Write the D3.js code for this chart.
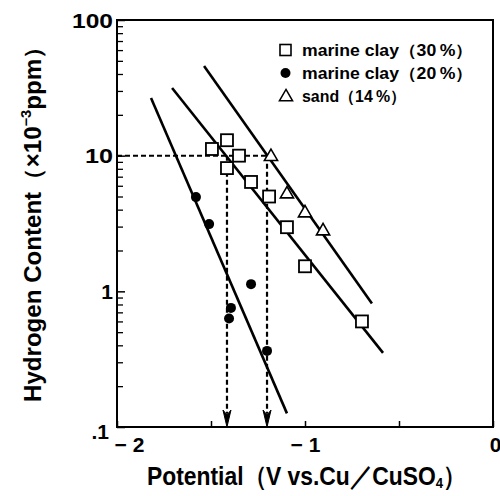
<!DOCTYPE html>
<html><head><meta charset="utf-8">
<script src="https://cdn.jsdelivr.net/npm/d3@7"></script>
<style>html,body{margin:0;padding:0;background:#fff;}svg{display:block;}</style>
</head><body>
<svg id="c" width="500" height="496"></svg>
<script>
// ---- data ----
const xTicks = [-2, -1.5, -1, -0.5, 0];
const xLabels = {"-2": "\u2212 2", "-1": "\u2212 1", "0": "0"};
const yMajor = [0.1, 1, 10, 100];
const yLabels = {"0.1": ".1", "1": "1", "10": "10", "100": "100"};
const seriesNames = ["marine clay\uFF0830\u2009%\uFF09", "marine clay\uFF0820\u2009%\uFF09", "sand\uFF0814\u2009%\uFF09"];
const squareX = [-1.495, -1.415, -1.351, -1.415, -1.287, -1.191, -1.096, -1.0, -0.697];
const squareY = [11.2, 13.0, 10.0, 8.1, 6.4, 5.0, 2.97, 1.53, 0.60];
const circleX = [-1.580, -1.510, -1.287, -1.394, -1.404, -1.202];
const circleY = [4.95, 3.13, 1.13, 0.755, 0.63, 0.364];
const triangleX = [-1.181, -1.096, -1.0, -0.904];
const triangleY = [10, 5.3, 3.84, 2.83];
const fitCircleX = [-1.819, -1.096], fitCircleY = [26.6, 0.126];
const fitSquareX = [-1.707, -0.585], fitSquareY = [31.5, 0.352];
const fitSandX = [-1.537, -0.644], fitSandY = [45.8, 0.814];
const guideH = {x: [-2, -1.181], y: [10, 10]};
const guideV = [{x: [-1.415, -1.415], y: [10, 0.1]}, {x: [-1.202, -1.202], y: [10, 0.1]}];

// ---- layout ----
const L = 117, R = 493, T = 20, B = 427;
const svg = d3.select("#c");
const x = d3.scaleLinear().domain([-2, 0]).range([L, R]);
const y = d3.scaleLog().domain([0.1, 100]).range([B, T]);
const font = "'Liberation Sans', Arial, sans-serif";

// minor y ticks
const yMinor = [];
for (let d = 0.1; d < 100; d *= 10) for (let k = 2; k <= 9; k++) yMinor.push(+(d * k).toPrecision(3));

const gMinor = svg.append("g").attr("transform", `translate(${L},0)`)
  .call(d3.axisLeft(y).tickValues(yMinor).tickSize(-6).tickFormat(""));
gMinor.select(".domain").remove();
gMinor.selectAll("line").attr("stroke", "#000").attr("stroke-width", 1.3);

const labW = {"100": 41, "10": 28};
const gy = svg.append("g").attr("transform", `translate(${L},0)`)
  .call(d3.axisLeft(y).tickValues(yMajor).tickSize(-8).tickPadding(12).tickFormat(d => yLabels[String(d)]));
gy.select(".domain").remove();
gy.selectAll("line").attr("stroke", "#000").attr("stroke-width", 1.5);
gy.selectAll("text").attr("font-family", font).attr("font-weight", "bold").attr("font-size", 21).attr("fill", "#000").attr("x", -4)
  .each(function(d) { const w = labW[String(d)]; if (w) d3.select(this).attr("textLength", w).attr("lengthAdjust", "spacingAndGlyphs"); });
gy.selectAll("text").filter(d => d === 0.1).attr("x", -8).attr("dy", "0.55em");
gy.selectAll("text").filter(d => d === 100).attr("dy", "0.35em");

const gx = svg.append("g").attr("transform", `translate(0,${B})`)
  .call(d3.axisBottom(x).tickValues(xTicks).tickSize(-6).tickPadding(10).tickFormat(d => xLabels[String(d)] || ""));
gx.select(".domain").remove();
gx.selectAll("line").attr("stroke", "#000").attr("stroke-width", 1.5);
gx.selectAll("text").attr("font-family", font).attr("font-weight", "bold").attr("font-size", 21).attr("fill", "#000");
gx.selectAll("text").filter(d => d === -2).attr("dx", 12);
gx.selectAll("text").filter(d => d === 0).attr("dx", 2);

// frame
svg.append("rect").attr("x", L).attr("y", T).attr("width", R - L).attr("height", B - T)
  .attr("fill", "none").attr("stroke", "#000").attr("stroke-width", 2);

// guides (dashed)
const line = d3.line().x(d => x(d[0])).y(d => y(d[1]));
const zip = (a, b) => a.map((v, i) => [v, b[i]]);
svg.append("path").attr("d", line(zip(guideH.x, guideH.y)))
  .attr("fill", "none").attr("stroke", "#000").attr("stroke-width", 2).attr("stroke-dasharray", "5,3");
guideV.forEach(g => {
  svg.append("path").attr("d", line(zip(g.x, g.y.map((v, i) => i === 1 ? v * 1.25 : v))))
    .attr("fill", "none").attr("stroke", "#000").attr("stroke-width", 2.2).attr("stroke-dasharray", "5,3");
  const tx = x(g.x[1]), ty = y(g.y[1]);
  svg.append("path").attr("d", `M${tx},${ty} L${tx - 4},${ty - 17} L${tx},${ty - 12} L${tx + 4},${ty - 17} Z`)
    .attr("fill", "#000").attr("stroke", "#000").attr("stroke-width", 1);
});

// fit lines
[[fitCircleX, fitCircleY], [fitSquareX, fitSquareY], [fitSandX, fitSandY]].forEach(([fx, fy]) => {
  svg.append("path").attr("d", line(zip(fx, fy)))
    .attr("fill", "none").attr("stroke", "#000").attr("stroke-width", 2.6);
});

// markers
const sq = 12;
svg.append("g").selectAll("rect").data(zip(squareX, squareY)).join("rect")
  .attr("x", d => x(d[0]) - sq / 2).attr("y", d => y(d[1]) - sq / 2)
  .attr("width", sq).attr("height", sq)
  .attr("fill", "#fff").attr("stroke", "#000").attr("stroke-width", 1.8);
svg.append("g").selectAll("circle").data(zip(circleX, circleY)).join("circle")
  .attr("cx", d => x(d[0])).attr("cy", d => y(d[1])).attr("r", 5).attr("fill", "#000");
const tri = d3.symbol().type(d3.symbolTriangle).size(75);
svg.append("g").selectAll("path").data(zip(triangleX, triangleY)).join("path")
  .attr("transform", d => `translate(${x(d[0])},${y(d[1]) + 1})`).attr("d", tri)
  .attr("fill", "#fff").attr("stroke", "#000").attr("stroke-width", 1.6);

// legend
const lg = svg.append("g");
const rows = [50, 73, 96];
const widths = [171, 171, 104];
lg.append("rect").attr("x", 280).attr("y", rows[0] - 5.5).attr("width", 11).attr("height", 11)
  .attr("fill", "#fff").attr("stroke", "#000").attr("stroke-width", 1.6);
lg.append("circle").attr("cx", 285.5).attr("cy", rows[1]).attr("r", 5).attr("fill", "#000");
lg.append("path").attr("transform", `translate(286,${rows[2] + 1})`).attr("d", tri)
  .attr("fill", "#fff").attr("stroke", "#000").attr("stroke-width", 1.5);
seriesNames.forEach((s, i) => {
  lg.append("text").attr("x", 302).attr("y", rows[i]).attr("dy", "0.36em")
    .attr("font-family", font).attr("font-weight", "bold").attr("font-size", 16)
    .attr("textLength", widths[i]).attr("lengthAdjust", "spacingAndGlyphs")
    .text(s);
});

// axis titles (scaled horizontally to fit the measured reference extent)
function fitText(g, text, targetW) {
  const w = text.node().getBBox().width;
  return w;
}
const xtG = svg.append("g");
const xt = xtG.append("text").attr("x", 0).attr("y", 0)
  .attr("font-family", font).attr("font-weight", "bold").attr("font-size", 26);
xt.append("tspan").text("Potential\uFF08V vs.Cu\uFF0FCuSO");
xt.append("tspan").attr("font-size", 15).attr("dy", 3).text("4");
xt.append("tspan").attr("dy", -3).text("\uFF09");
const xw = xt.node().getBBox().width;
xtG.attr("transform", `translate(147,485) scale(${320 / xw},1)`);

const ytG = svg.append("g");
const yt = ytG.append("text").attr("x", 0).attr("y", 0)
  .attr("font-family", font).attr("font-weight", "bold").attr("font-size", 23);
yt.append("tspan").text("Hydrogen Content\uFF08\u00D710");
yt.append("tspan").attr("font-size", 14).attr("dy", -10).text("\u22123");
yt.append("tspan").attr("dy", 10).text("ppm\uFF09");
const yw = yt.node().getBBox().width;
ytG.attr("transform", `translate(41,402) rotate(-90) scale(${367 / yw},1)`);
</script>
</body></html>
